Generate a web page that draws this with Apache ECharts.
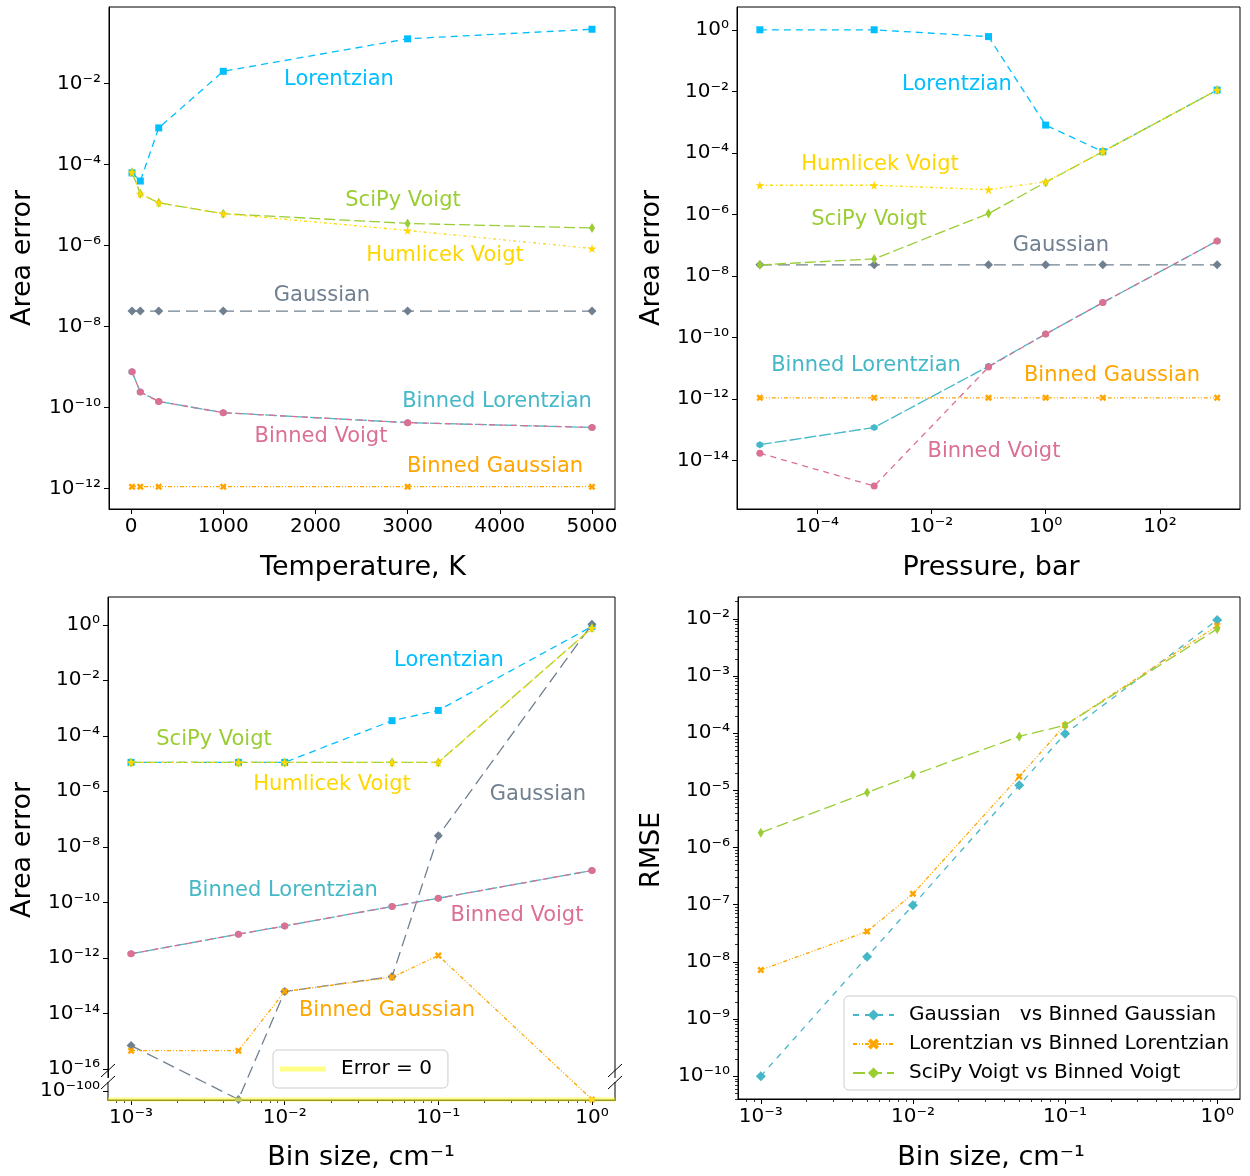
<!DOCTYPE html>
<html><head><meta charset="utf-8">
<script src="https://cdn.jsdelivr.net/npm/echarts@6/dist/echarts.min.js"></script>
<style>html,body{margin:0;padding:0;background:#fff}#c{width:1250px;height:1176px}</style>
</head><body><div id="c"></div>
<script>
// ---------------- DATA ----------------
// Panel 1: area error vs temperature
const tempK = [10, 100, 300, 1000, 3000, 5000];
const tLorentzian   = [6.2e-5, 3.9e-5, 8.0e-4, 2.0e-2, 0.127, 0.219];
const tGaussian     = [2.4e-8, 2.4e-8, 2.4e-8, 2.4e-8, 2.4e-8, 2.4e-8];
const tSciPyVoigt   = [6.4e-5, 1.9e-5, 1.13e-5, 6.1e-6, 3.5e-6, 2.7e-6];
const tHumlicek     = [6.4e-5, 1.9e-5, 1.13e-5, 6.1e-6, 2.35e-6, 8.4e-7];
const tBinnedGauss  = [1.1e-12, 1.1e-12, 1.1e-12, 1.1e-12, 1.1e-12, 1.1e-12];
const tBinnedLor    = [7.6e-10, 2.4e-10, 1.4e-10, 7.4e-11, 4.2e-11, 3.2e-11];
const tBinnedVoigt  = [7.6e-10, 2.4e-10, 1.4e-10, 7.4e-11, 4.2e-11, 3.2e-11];

// Panel 2: area error vs pressure
const pressureBar = [1e-5, 1e-3, 1e-1, 1, 10, 1000];
const pLorentzian   = [1.0, 1.0, 0.6, 8e-4, 1.1e-4, 0.011];
const pGaussian     = [2.3e-8, 2.3e-8, 2.3e-8, 2.3e-8, 2.3e-8, 2.3e-8];
const pSciPyVoigt   = [2.3e-8, 3.6e-8, 1.07e-6, 1.1e-5, 1.1e-4, 0.011];
const pHumlicek     = [8.9e-6, 8.9e-6, 6.4e-6, 1.15e-5, 1.1e-4, 0.011];
const pBinnedGauss  = [1.1e-12, 1.1e-12, 1.1e-12, 1.1e-12, 1.1e-12, 1.1e-12];
const pBinnedLor    = [3.3e-14, 1.2e-13, 1.17e-11, 1.3e-10, 1.37e-9, 1.38e-7];
const pBinnedVoigt  = [1.75e-14, 1.5e-15, 1.1e-11, 1.3e-10, 1.37e-9, 1.38e-7];

// Panel 3: area error vs bin size (zero error drawn at the "Error = 0" level)
const binSize = [1e-3, 5e-3, 1e-2, 5e-2, 1e-1, 1];
const zeroErrorLevel = 5e-101;
const bLorentzian   = [1.1e-5, 1.1e-5, 1.1e-5, 3.5e-4, 8.2e-4, 0.87];
const bGaussian     = [6.9e-16, 5e-101, 6.1e-14, 2.1e-13, 2.5e-8, 1.05];
const bSciPyVoigt   = [1.1e-5, 1.1e-5, 1.1e-5, 1.1e-5, 1.1e-5, 0.76];
const bHumlicek     = [1.1e-5, 1.1e-5, 1.1e-5, 1.1e-5, 1.1e-5, 0.76];
const bBinnedGauss  = [4.5e-16, 4.5e-16, 6.1e-14, 2.0e-13, 1.2e-12, 5e-101];
const bBinnedLor    = [1.4e-12, 7.1e-12, 1.4e-11, 7.1e-11, 1.4e-10, 1.4e-9];
const bBinnedVoigt  = [1.4e-12, 7.1e-12, 1.4e-11, 7.1e-11, 1.4e-10, 1.4e-9];

// Panel 4: RMSE vs bin size
const rmseGauss = [1.0e-10, 1.23e-8, 9.8e-8, 1.23e-5, 9.8e-5, 9.6e-3];
const rmseLor   = [7.2e-9, 3.4e-8, 1.55e-7, 1.75e-5, 1.38e-4, 7.6e-3];
const rmseVoigt = [1.82e-6, 9.2e-6, 1.85e-5, 8.8e-5, 1.38e-4, 6.7e-3];

// Tick labels
const p1xTicks = [0, 1000, 2000, 3000, 4000, 5000];
const p1yTicks = [1e-12, 1e-10, 1e-8, 1e-6, 1e-4, 1e-2];
const p2xTicks = [1e-4, 1e-2, 1, 1e2];
const p2yTicks = [1e-14, 1e-12, 1e-10, 1e-8, 1e-6, 1e-4, 1e-2, 1];
const p3xTicks = [1e-3, 1e-2, 1e-1, 1];
const p3yTicks = [1e-100, 1e-16, 1e-14, 1e-12, 1e-10, 1e-8, 1e-6, 1e-4, 1e-2, 1];
const p4xTicks = [1e-3, 1e-2, 1e-1, 1];
const p4yTicks = [1e-10, 1e-9, 1e-8, 1e-7, 1e-6, 1e-5, 1e-4, 1e-3, 1e-2];

// ---------------- STYLE ----------------
const FONT = '"DejaVu Sans", Verdana, sans-serif';
const C = {
  lor: '#00BFFF', gau: '#708090', sci: '#9ACD32', hum: '#FFD700',
  bgau: '#FFA500', blor: '#45B8C8', bvoi: '#DB7093'
};
const STAR = 'path://M50,0 L61,35 L98,35 L68,57 L79,91 L50,70 L21,91 L32,57 L2,35 L39,35 Z';
const XMARK = 'path://M25,0 L50,25 L75,0 L100,25 L75,50 L100,75 L75,100 L50,75 L25,100 L0,75 L25,50 L0,25 Z';
const HEX = 'path://M50,0 L93,25 L93,75 L50,100 L7,75 L7,25 Z';
const SUP = {'-':'\u207B','0':'\u2070','1':'\u00B9','2':'\u00B2','3':'\u00B3','4':'\u2074','5':'\u2075','6':'\u2076','7':'\u2077','8':'\u2078','9':'\u2079'};
function pow10Label(v){ const e = Math.round(Math.log10(v)); return '10' + String(e).split('').map(c => SUP[c]).join(''); }
function minorTicks(lo, hi){
  const out = [];
  for (let d = Math.floor(lo) - 1; d <= Math.ceil(hi); d++) {
    for (let m = 2; m <= 9; m++) { const v = m * Math.pow(10, d); const l = Math.log10(v); if (l > lo && l < hi) out.push(v); }
  }
  return out;
}

const grids = [
  {left: 109, top: 7, width: 506, height: 502},
  {left: 737, top: 7, width: 503, height: 502},
  {left: 108, top: 597, width: 507, height: 503},
  {left: 738, top: 597, width: 502, height: 502}
].map(g => Object.assign(g, {show: true, borderColor: '#000', borderWidth: 1, backgroundColor: 'transparent', containLabel: false}));

const R = {
  p1x: [-239.5, 5249.5], p1y: [-12.51, -0.11],
  p2x: [-5.4, 3.4], p2y: [-15.57, 0.74],
  p3x: [-3.15, 0.15], p3y: [-100.32, 1.0],
  p4x: [-3.15, 0.15], p4y: [-10.4, -1.616]
};

function baseAxis(extra){
  return Object.assign({
    axisLine: {show: true, onZero: false, lineStyle: {color: '#000', width: 1}},
    splitLine: {show: false}, minorTick: {show: false}, minorSplitLine: {show: false}
  }, extra);
}
function tickCfg(ticks){ return {show: true, length: 5, inside: false, customValues: ticks, lineStyle: {color: '#000', width: 1}}; }
function labelCfg(ticks, fmt){ return {show: true, customValues: ticks, formatter: fmt, color: '#000', fontSize: 20, fontFamily: FONT, margin: 8}; }
function logAxis(gi, r, ticks, extra){
  return baseAxis(Object.assign({type: 'log', logBase: 10, gridIndex: gi, min: Math.pow(10, r[0]), max: Math.pow(10, r[1]),
    axisTick: tickCfg(ticks), axisLabel: labelCfg(ticks, pow10Label)}, extra || {}));
}
function minorAxis(gi, r, pos){
  return {type: 'log', logBase: 10, gridIndex: gi, position: pos, min: Math.pow(10, r[0]), max: Math.pow(10, r[1]),
    axisLine: {show: false, onZero: false}, axisLabel: {show: false}, splitLine: {show: false},
    axisTick: {show: true, length: 3, customValues: minorTicks(r[0], r[1]), lineStyle: {color: '#000', width: 0.8}}};
}

const xAxes = [
  baseAxis({type: 'value', gridIndex: 0, min: R.p1x[0], max: R.p1x[1], axisTick: tickCfg(p1xTicks), axisLabel: labelCfg(p1xTicks, v => String(v)), position: 'bottom'}),
  logAxis(1, R.p2x, p2xTicks, {position: 'bottom'}),
  logAxis(2, R.p3x, p3xTicks, {position: 'bottom'}),
  logAxis(3, R.p4x, p4xTicks, {position: 'bottom'}),
  minorAxis(2, R.p3x, 'bottom'),
  minorAxis(3, R.p4x, 'bottom')
];
const yAxes = [
  logAxis(0, R.p1y, p1yTicks, {position: 'left'}),
  logAxis(1, R.p2y, p2yTicks, {position: 'left'}),
  logAxis(2, R.p3y, p3yTicks, {position: 'left',
    breaks: [{start: Math.pow(10, -99.68), end: Math.pow(10, -16.32), gap: '0.9%'}],
    breakArea: {show: false, expandOnClick: false}
  }),
  logAxis(3, R.p4y, p4yTicks, {position: 'left'}),
  minorAxis(3, R.p4y, 'left')
];

function ser(name, xi, xs, ys, color, dash, symbol, size, z, width){
  return {type: 'line', name, xAxisIndex: xi, yAxisIndex: xi, data: xs.map((x, i) => [x, ys[i]]),
    lineStyle: {color, width: width || 1.3, type: dash}, itemStyle: {color, borderWidth: 0},
    symbol, symbolSize: size, showSymbol: true, showAllSymbol: true, animation: false, z: z || 2, clip: false};
}
const D_LOR = [7, 5], D_GAU = [12, 6], D_SCI = [11, 4], D_HUM = [3, 3, 1, 3], D_BGAU = [4, 2, 1, 2, 1, 2], D_BLOR = [12, 3], D_BVOI = [6, 5];

function panelSeries(xi, xs, L, G, S, H, BG, BL, BV){
  return [
    ser('Lorentzian', xi, xs, L, C.lor, D_LOR, 'rect', 7, 2),
    ser('Gaussian', xi, xs, G, C.gau, D_GAU, 'diamond', 9, 3),
    ser('SciPy Voigt', xi, xs, S, C.sci, D_SCI, 'diamond', [6, 10], 4),
    ser('Humlicek Voigt', xi, xs, H, C.hum, D_HUM, STAR, 9, 5),
    ser('Binned Gaussian', xi, xs, BG, C.bgau, D_BGAU, XMARK, 7, 6),
    ser('Binned Lorentzian', xi, xs, BL, C.blor, D_BLOR, HEX, 7, 7),
    ser('Binned Voigt', xi, xs, BV, C.bvoi, D_BVOI, 'circle', 7, 8)
  ];
}

// "Error = 0" reference line spans the full bin-size axis of panel 3
const zeroLineX = [Math.pow(10, R.p3x[0]), Math.pow(10, R.p3x[1])];

const series = [].concat(
  panelSeries(2, binSize, bLorentzian, bGaussian, bSciPyVoigt, bHumlicek, bBinnedGauss, bBinnedLor, bBinnedVoigt).map(s => s),
  panelSeries(0, tempK, tLorentzian, tGaussian, tSciPyVoigt, tHumlicek, tBinnedGauss, tBinnedLor, tBinnedVoigt),
  panelSeries(1, pressureBar, pLorentzian, pGaussian, pSciPyVoigt, pHumlicek, pBinnedGauss, pBinnedLor, pBinnedVoigt),
  [
    {type: 'line', name: 'Error = 0', xAxisIndex: 2, yAxisIndex: 2, data: zeroLineX.map(x => [x, zeroErrorLevel]),
      symbol: 'none', showSymbol: false, clip: true, animation: false,
      lineStyle: {color: 'rgba(255,255,60,0.6)', width: 4, type: 'solid'}, itemStyle: {color: 'rgba(255,255,120,0.9)'}, z: 10},
    ser('Gaussian   vs Binned Gaussian', 3, binSize, rmseGauss, C.blor, [6, 6], 'diamond', 10, 3),
    ser('Lorentzian vs Binned Lorentzian', 3, binSize, rmseLor, C.bgau, D_BGAU, XMARK, 7, 4),
    ser('SciPy Voigt vs Binned Voigt', 3, binSize, rmseVoigt, C.sci, [12, 5], 'diamond', [6, 10], 5)
  ]
);

function txt(x, y, text, color, size, rot){
  return {type: 'text', x, y, rotation: rot || 0, silent: true, z: 50,
    style: {text, fill: color, font: size + 'px ' + FONT, align: 'center', verticalAlign: 'middle', textAlign: 'center', textVerticalAlign: 'middle'}};
}
const A = 21, T = 27;
const graphics = [
  // panel 1 annotations
  txt(339, 80, 'Lorentzian', C.lor, A), txt(403, 201, 'SciPy Voigt', C.sci, A), txt(445, 256, 'Humlicek Voigt', C.hum, A),
  txt(322, 296, 'Gaussian', C.gau, A), txt(497, 402, 'Binned Lorentzian', C.blor, A), txt(321, 437, 'Binned Voigt', C.bvoi, A),
  txt(495, 467, 'Binned Gaussian', C.bgau, A),
  // panel 2 annotations
  txt(957, 85, 'Lorentzian', C.lor, A), txt(880, 165, 'Humlicek Voigt', C.hum, A), txt(869, 220, 'SciPy Voigt', C.sci, A),
  txt(1061, 246, 'Gaussian', C.gau, A), txt(866, 366, 'Binned Lorentzian', C.blor, A), txt(1112, 376, 'Binned Gaussian', C.bgau, A),
  txt(994, 452, 'Binned Voigt', C.bvoi, A),
  // panel 3 annotations
  txt(449, 661, 'Lorentzian', C.lor, A), txt(214, 740, 'SciPy Voigt', C.sci, A), txt(332, 785, 'Humlicek Voigt', C.hum, A),
  txt(538, 795, 'Gaussian', C.gau, A), txt(283, 891, 'Binned Lorentzian', C.blor, A), txt(517, 916, 'Binned Voigt', C.bvoi, A),
  txt(387, 1011, 'Binned Gaussian', C.bgau, A),
  // axis titles
  txt(363, 568, 'Temperature, K', '#000', T), txt(991, 568, 'Pressure, bar', '#000', T),
  txt(361, 1158, 'Bin size, cm\u207B\u00B9', '#000', T), txt(991, 1158, 'Bin size, cm\u207B\u00B9', '#000', T),
  txt(23, 258, 'Area error', '#000', T, Math.PI / 2), txt(652, 258, 'Area error', '#000', T, Math.PI / 2),
  txt(23, 850, 'Area error', '#000', T, Math.PI / 2), txt(652, 850, 'RMSE', '#000', T, Math.PI / 2),
  // broken-axis marks
  {type: 'rect', z: 55, silent: true, shape: {x: 98, y: 1078, width: 20, height: 4}, style: {fill: '#fff'}},
  {type: 'rect', z: 55, silent: true, shape: {x: 606, y: 1078, width: 20, height: 4}, style: {fill: '#fff'}},
  {type: 'line', z: 60, silent: true, shape: {x1: 101, y1: 1077, x2: 115, y2: 1064}, style: {stroke: '#000', lineWidth: 1}},
  {type: 'line', z: 60, silent: true, shape: {x1: 101, y1: 1089, x2: 115, y2: 1076}, style: {stroke: '#000', lineWidth: 1}},
  {type: 'line', z: 60, silent: true, shape: {x1: 608, y1: 1077, x2: 622, y2: 1064}, style: {stroke: '#000', lineWidth: 1}},
  {type: 'line', z: 60, silent: true, shape: {x1: 608, y1: 1089, x2: 622, y2: 1076}, style: {stroke: '#000', lineWidth: 1}}
];

const legendBase = {
  backgroundColor: 'rgba(255,255,255,0.85)', borderColor: '#cccccc', borderWidth: 1, borderRadius: 5,
  textStyle: {fontSize: 20, fontFamily: FONT, color: '#000', padding: [0, 0, 0, 10]},
  selectedMode: false, z: 40
};
const legends = [
  Object.assign({}, legendBase, {data: [{name: 'Error = 0', icon: 'rect'}], left: 273, top: 1050, orient: 'horizontal',
    itemWidth: 46, itemHeight: 5, padding: [9, 16, 9, 7]}),
  Object.assign({}, legendBase, {data: ['Gaussian   vs Binned Gaussian', 'Lorentzian vs Binned Lorentzian', 'SciPy Voigt vs Binned Voigt'],
    left: 844, top: 996, orient: 'vertical', itemWidth: 41, itemHeight: 14, itemGap: 9, padding: [9, 8, 7, 8]})
];

const chart = echarts.init(document.getElementById('c'), null, {renderer: 'canvas'});
chart.setOption({
  animation: false,
  backgroundColor: '#fff',
  textStyle: {fontFamily: FONT},
  grid: grids,
  xAxis: xAxes,
  yAxis: yAxes,
  legend: legends,
  series,
  graphic: graphics
});
</script></body></html>
